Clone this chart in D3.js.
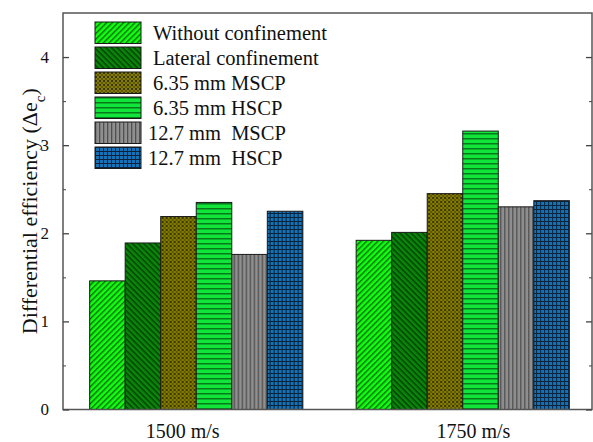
<!DOCTYPE html>
<html>
<head>
<meta charset="utf-8">
<script src="https://cdn.jsdelivr.net/npm/d3@7"></script>
<style>
  body { margin: 0; background: #fff; }
  svg text { font-family: "Liberation Serif", "Times New Roman", "DejaVu Serif", serif; fill: #111; }
</style>
</head>
<body>
<div id="chart"></div>
<script>
// data
var speeds = ["1500 m/s", "1750 m/s"];
var series = ["Without confinement", "Lateral confinement", "6.35 mm MSCP", "6.35 mm HSCP", "12.7 mm  MSCP", "12.7 mm  HSCP"];
var values1500 = [1.46, 1.89, 2.19, 2.35, 1.76, 2.25];
var values1750 = [1.92, 2.01, 2.45, 3.16, 2.30, 2.37];
var yTicks = [0, 1, 2, 3, 4];
var yMinor = [0.5, 1.5, 2.5, 3.5];

var W = 593, H = 442;
var margin = {top: 13, right: 1, bottom: 32.5, left: 63},
    width = W - margin.left - margin.right,
    height = H - margin.top - margin.bottom;

var svg = d3.select("#chart").append("svg")
  .attr("width", W).attr("height", H)
  .attr("font-family", "Liberation Serif, Times New Roman, serif");

// hatch patterns, one per series
var defs = svg.append("defs");
function pat(id, size, bg, rot) {
  var p = defs.append("pattern").attr("id", id)
    .attr("patternUnits", "userSpaceOnUse")
    .attr("width", size).attr("height", size);
  if (rot) p.attr("patternTransform", "rotate(" + rot + ")");
  p.append("rect").attr("width", size).attr("height", size).attr("fill", bg);
  return p;
}
var p0 = pat("p0", 4, "#11ff11", -45);
p0.append("rect").attr("x", 0).attr("y", 0).attr("width", 4).attr("height", 1.4).attr("fill", "#056b05");
var p1 = pat("p1", 4, "#0a860a", 45);
p1.append("rect").attr("x", 0).attr("y", 0).attr("width", 4).attr("height", 1.4).attr("fill", "#023d02");
var p2 = pat("p2", 4, "#857d00", 0);
p2.append("rect").attr("x", 0).attr("y", 0).attr("width", 2).attr("height", 2).attr("fill", "#3a3600");
p2.append("rect").attr("x", 2).attr("y", 2).attr("width", 2).attr("height", 2).attr("fill", "#5d5800");
var p3 = pat("p3", 5, "#11e53a", 0);
p3.append("rect").attr("x", 0).attr("y", 0).attr("width", 5).attr("height", 1.5).attr("fill", "#067a1a");
var p4 = pat("p4", 4, "#8f8f8f", 0);
p4.append("rect").attr("x", 0).attr("y", 0).attr("width", 1.3).attr("height", 4).attr("fill", "#505050");
var p5 = pat("p5", 4, "#1472b8", 0);
p5.append("rect").attr("x", 0).attr("y", 0).attr("width", 4).attr("height", 1).attr("fill", "#0b2238");
p5.append("rect").attr("x", 0).attr("y", 0).attr("width", 1).attr("height", 4).attr("fill", "#0b2238");
var fills = ["url(#p0)", "url(#p1)", "url(#p2)", "url(#p3)", "url(#p4)", "url(#p5)"];

var g = svg.append("g")
  .attr("transform", "translate(" + margin.left + "," + margin.top + ")");

var x0 = d3.scaleBand().domain(speeds).range([0, width + 4])
  .paddingInner(0.2).paddingOuter(0.1);
var x1 = d3.scaleBand().domain(series).range([0, x0.bandwidth()]);
var xl = d3.scalePoint().domain(speeds).range([0, width]).padding(0.41);
var y = d3.scaleLinear().domain([0, 4.5]).range([height, 0]);

var rows = speeds.map(function(s, i) {
  var vals = i === 0 ? values1500 : values1750;
  return {speed: s, bars: series.map(function(n, j) { return {name: n, idx: j, v: vals[j]}; })};
});

// bars
g.selectAll("g.grp").data(rows).enter().append("g")
  .attr("class", "grp")
  .attr("transform", function(d) { return "translate(" + x0(d.speed) + ",0)"; })
  .selectAll("rect").data(function(d) { return d.bars; }).enter().append("rect")
    .attr("x", function(d) { return x1(d.name); })
    .attr("y", function(d) { return y(d.v); })
    .attr("width", x1.bandwidth())
    .attr("height", function(d) { return height - y(d.v); })
    .attr("fill", function(d) { return fills[d.idx]; })
    .attr("stroke", "#1a1a1a")
    .attr("stroke-width", 1);

// frame
g.append("rect").attr("width", width).attr("height", height)
  .attr("fill", "none").attr("stroke", "#555").attr("stroke-width", 1.5);

// left axis, ticks inside
var yl = g.append("g")
  .call(d3.axisLeft(y).tickValues(yTicks).tickSize(-6).tickPadding(14).tickFormat(d3.format("d")))
  .attr("font-family", null).attr("font-size", null);
yl.select(".domain").remove();
yl.selectAll("line").attr("stroke", "#444").attr("stroke-width", 1.3);
yl.selectAll("text").style("font-size", "17px");
var ym = g.append("g").call(d3.axisLeft(y).tickValues(yMinor).tickSize(-3).tickFormat(""));
ym.select(".domain").remove();
ym.selectAll("line").attr("stroke", "#444");

// right axis, ticks inside
var yr = g.append("g").attr("transform", "translate(" + width + ",0)")
  .call(d3.axisRight(y).tickValues(yTicks).tickSize(-6).tickFormat(""));
yr.select(".domain").remove();
yr.selectAll("line").attr("stroke", "#444").attr("stroke-width", 1.3);
var yrm = g.append("g").attr("transform", "translate(" + width + ",0)")
  .call(d3.axisRight(y).tickValues(yMinor).tickSize(-3).tickFormat(""));
yrm.select(".domain").remove();
yrm.selectAll("line").attr("stroke", "#444");

// category labels
var xa = g.append("g").attr("transform", "translate(0," + height + ")")
  .call(d3.axisBottom(xl).tickSize(0).tickPadding(14))
  .attr("font-family", null).attr("font-size", null);
xa.select(".domain").remove();
xa.selectAll("text").style("font-size", "20px");

// y title
var yt = svg.append("text")
  .attr("transform", "translate(37," + (margin.top + height / 2) + ") rotate(-90)")
  .attr("text-anchor", "middle")
  .style("font-size", "22px");
yt.append("tspan").text("Differential efficiency (Δe");
yt.append("tspan").text("c").attr("baseline-shift", "sub").style("font-size", "15px");
yt.append("tspan").text(")");

// legend
var leg = svg.append("g").attr("transform", "translate(95,22)");
var li = leg.selectAll("g").data(series).enter().append("g")
  .attr("transform", function(d, i) { return "translate(0," + (i * 25) + ")"; });
li.append("rect").attr("width", 46).attr("height", 21.5)
  .attr("fill", function(d, i) { return fills[i]; })
  .attr("stroke", "#1a1a1a").attr("stroke-width", 1);
li.append("text")
  .attr("x", function(d, i) { return i >= 4 ? 53 : 58; })
  .attr("y", 17.5)
  .style("font-size", "20.5px")
  .style("white-space", "pre")
  .attr("xml:space", "preserve")
  .text(function(d) { return d; });
</script>
</body>
</html>
